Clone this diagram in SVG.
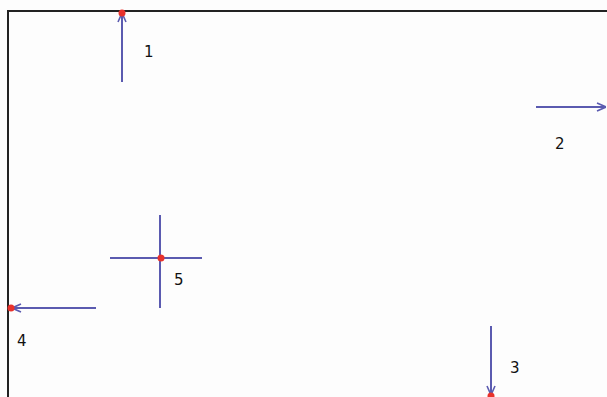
<svg xmlns="http://www.w3.org/2000/svg" width="607" height="397" viewBox="0 0 607 397">
<style>
.ln{stroke:#5b5bb0;stroke-width:2;fill:none}
.dot{fill:#e8322c}
.lbl{font-family:"DejaVu Sans","Liberation Sans",sans-serif;font-size:15px;fill:#111}
</style>
<defs>
<marker id="ah" viewBox="0 0 10 10" refX="10" refY="5" markerWidth="10" markerHeight="10" markerUnits="userSpaceOnUse" orient="auto">
<path d="M1,1 L10,5 L1,9" stroke="#5b5bb0" stroke-width="1.6" fill="none"/>
</marker>
</defs>
<rect width="607" height="397" fill="#fdfdfd"/>
<path d="M8,397 L8,11 L607,11" stroke="#222" stroke-width="2" fill="none"/>
<g id="connectors">
<line class="ln" x1="122" y1="82" x2="122" y2="13" marker-end="url(#ah)"/>
<line class="ln" x1="536" y1="107" x2="606" y2="107" marker-end="url(#ah)"/>
<line class="ln" x1="491" y1="326" x2="491" y2="395" marker-end="url(#ah)"/>
<line class="ln" x1="96" y1="308" x2="12" y2="308" marker-end="url(#ah)"/>
<line class="ln" x1="110" y1="258" x2="202" y2="258"/>
<line class="ln" x1="160" y1="215" x2="160" y2="308"/>
</g>
<g id="n1"><circle class="dot" cx="122" cy="13" r="3.5"/><text class="lbl" x="144" y="57">1</text></g>
<g id="n2"><text class="lbl" x="555" y="149">2</text></g>
<g id="n3"><circle class="dot" cx="491" cy="396" r="3.5"/><text class="lbl" x="510" y="373">3</text></g>
<g id="n4"><circle class="dot" cx="11" cy="308" r="3.5"/><text class="lbl" x="17" y="346">4</text></g>
<g id="n5"><circle class="dot" cx="161" cy="258" r="3.5"/><text class="lbl" x="174" y="285">5</text></g>
</svg>
